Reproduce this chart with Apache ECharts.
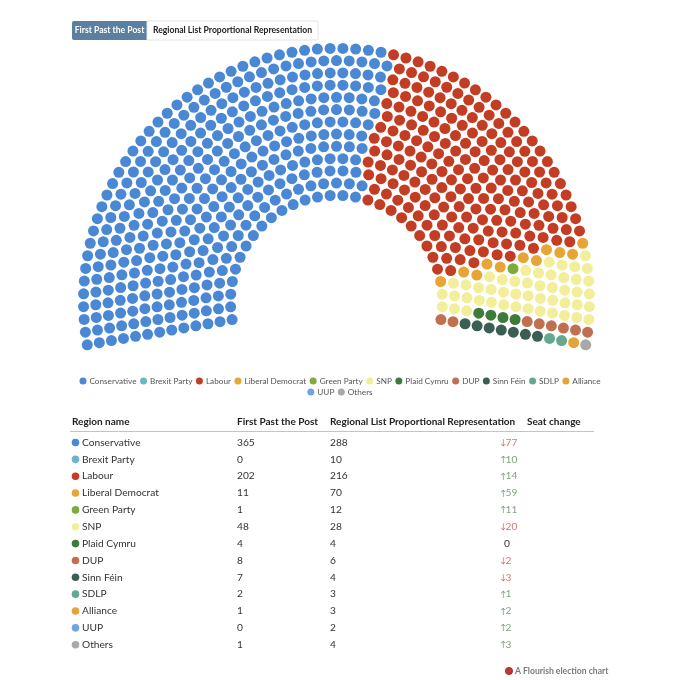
<!DOCTYPE html>
<html><head><meta charset="utf-8">
<script src="https://cdn.jsdelivr.net/npm/echarts@6/dist/echarts.min.js"></script>
<style>html,body{margin:0;padding:0;background:#fff}#c{width:680px;height:680px}</style>
</head><body><div id="c"></div>
<script>
// ---- data ----
const parties = ['Conservative','Brexit Party','Labour','Liberal Democrat','Green Party','SNP','Plaid Cymru','DUP','Sinn Féin','SDLP','Alliance','UUP','Others'];
const fptpSeats = [365,0,202,11,1,48,4,8,7,2,1,0,1];
const prSeats = [288,10,216,70,12,28,4,6,4,3,3,2,4];
const partyColors = ['#4a87d5','#69b6cb','#c33d24','#e6a536','#7dab3c','#f2ee9a','#3e7b39','#c0704f','#3a5e53','#66a88f','#e3a53b','#6fa3e6','#a8a8a8'];
const tableHeaders = ['Region name','First Past the Post','Regional List Proportional Representation','Seat change'];
const buttonLabels = ['First Past the Post','Regional List Proportional Representation'];

// ---- hemicycle layout (geometry) ----
const ROWS = 13, R_IN = 106, R_OUT = 253, A_START = 189.9, A_END = -9.9;
const total = fptpSeats.reduce((a,b)=>a+b,0);
const radii = [];
for (let i=0;i<ROWS;i++) radii.push(R_IN + (R_OUT-R_IN)*i/(ROWS-1));
const rsum = radii.reduce((a,b)=>a+b,0);
let perRow = radii.map(r=>Math.floor(total*r/rsum));
let rem = total - perRow.reduce((a,b)=>a+b,0);
const fr = radii.map((r,i)=>({i, f: total*r/rsum - perRow[i]})).sort((a,b)=>b.f-a.f);
for (let k=0;k<rem;k++) perRow[fr[k].i]++;
const seats = [];
radii.forEach((r,i)=>{
  const n = perRow[i];
  for (let j=0;j<n;j++){
    const a = j===n-1 ? A_END : A_START - (A_START-A_END)*j/(n-1);
    seats.push({r, a});
  }
});
seats.sort((p,q)=> Math.abs(p.a-q.a)<1e-9 ? p.r-q.r : q.a-p.a);
const seriesData = parties.map(()=>[]);
let idx = 0;
fptpSeats.forEach((cnt,pi)=>{
  for (let k=0;k<cnt;k++){ const s=seats[idx++]; seriesData[pi].push([s.r, (s.a+360)%360]); }
});

const FONT = 'Lato';
const series = parties.map((p,i)=>({
  name:p, type:'scatter', coordinateSystem:'polar', symbol:'circle', symbolSize:11,
  itemStyle:{color:partyColors[i], opacity:1}, data:seriesData[i], silent:true
}));

// ---- graphics: buttons, table, footer ----
const g = [];
g.push({type:'rect', shape:{x:72,y:21,width:75,height:19,r:[2,0,0,2]}, style:{fill:'#5b7fa1'}});
g.push({type:'rect', shape:{x:147,y:21,width:171,height:19,r:[0,2,2,0]}, style:{fill:'#fff',stroke:'#e4e4e4',lineWidth:1}});
g.push({type:'text', x:109.5, y:30.5, style:{text:buttonLabels[0], fill:'#fff', font:'bold 8.6px '+FONT, align:'center', verticalAlign:'middle'}});
g.push({type:'text', x:232.5, y:30.5, style:{text:buttonLabels[1], fill:'#222', font:'bold 8.6px '+FONT, align:'center', verticalAlign:'middle'}});

const colX = [72,237,330,527];
tableHeaders.forEach((h,i)=>g.push({type:'text', x:colX[i], y:422, style:{text:h, fill:'#222', font:'bold 10px '+FONT, verticalAlign:'middle'}}));
g.push({type:'line', shape:{x1:70,y1:431.5,x2:594,y2:431.5}, style:{stroke:'#c4c4c4',lineWidth:1}});
parties.forEach((p,i)=>{
  const y = 442.5 + i*16.85;
  g.push({type:'circle', shape:{cx:75.5,cy:y,r:3.8}, style:{fill:partyColors[i]}});
  g.push({type:'text', x:82, y:y, style:{text:p, fill:'#333', font:'10.2px '+FONT, verticalAlign:'middle'}});
  g.push({type:'text', x:237, y:y, style:{text:String(fptpSeats[i]), fill:'#333', font:'10.2px '+FONT, verticalAlign:'middle'}});
  g.push({type:'text', x:330, y:y, style:{text:String(prSeats[i]), fill:'#333', font:'10.2px '+FONT, verticalAlign:'middle'}});
  const d = prSeats[i]-fptpSeats[i];
  if (d===0) g.push({type:'text', x:504, y:y, style:{text:'0', fill:'#333', font:'10.2px '+FONT, verticalAlign:'middle'}});
  else {
    const col = d>0 ? '#6e8f6e' : '#c8625c';
    g.push({type:'text', x:500, y:y, style:{text:(d>0?'↑':'↓'), fill:col, font:'8px '+FONT, verticalAlign:'middle'}});
    g.push({type:'text', x:505.5, y:y, style:{text:String(Math.abs(d)), fill:col, opacity:0.85, font:'10.2px '+FONT, verticalAlign:'middle'}});
  }
});
g.push({type:'circle', shape:{cx:509,cy:671,r:3.6}, style:{fill:'#c0392b',stroke:'#7a2a22',lineWidth:0.8}});
g.push({type:'text', x:515, y:671, style:{text:'A Flourish election chart', fill:'#7a7a7a', font:'bold 8.6px '+FONT, verticalAlign:'middle'}});

const legendText = {fontSize:8.2, color:'#555', fontFamily:FONT, padding:[0,0,0,-2]};
const chart = echarts.init(document.getElementById('c'), null, {renderer:'canvas'});
chart.setOption({
  animation:false,
  textStyle:{fontFamily:FONT},
  polar:{center:[336.5,301.3], radius:260},
  angleAxis:{type:'value', min:0, max:360, startAngle:0, clockwise:false, show:false},
  radiusAxis:{type:'value', min:0, max:260, show:false},
  legend:[
    {data:parties.slice(0,11), left:'center', top:372, itemWidth:7, itemHeight:7, itemGap:3.5, icon:'circle',
     textStyle:legendText, selectedMode:false},
    {data:parties.slice(11), left:'center', top:383, itemWidth:7, itemHeight:7, itemGap:3.5, icon:'circle',
     textStyle:legendText, selectedMode:false}
  ],
  series: series,
  graphic: g
});
</script></body></html>
